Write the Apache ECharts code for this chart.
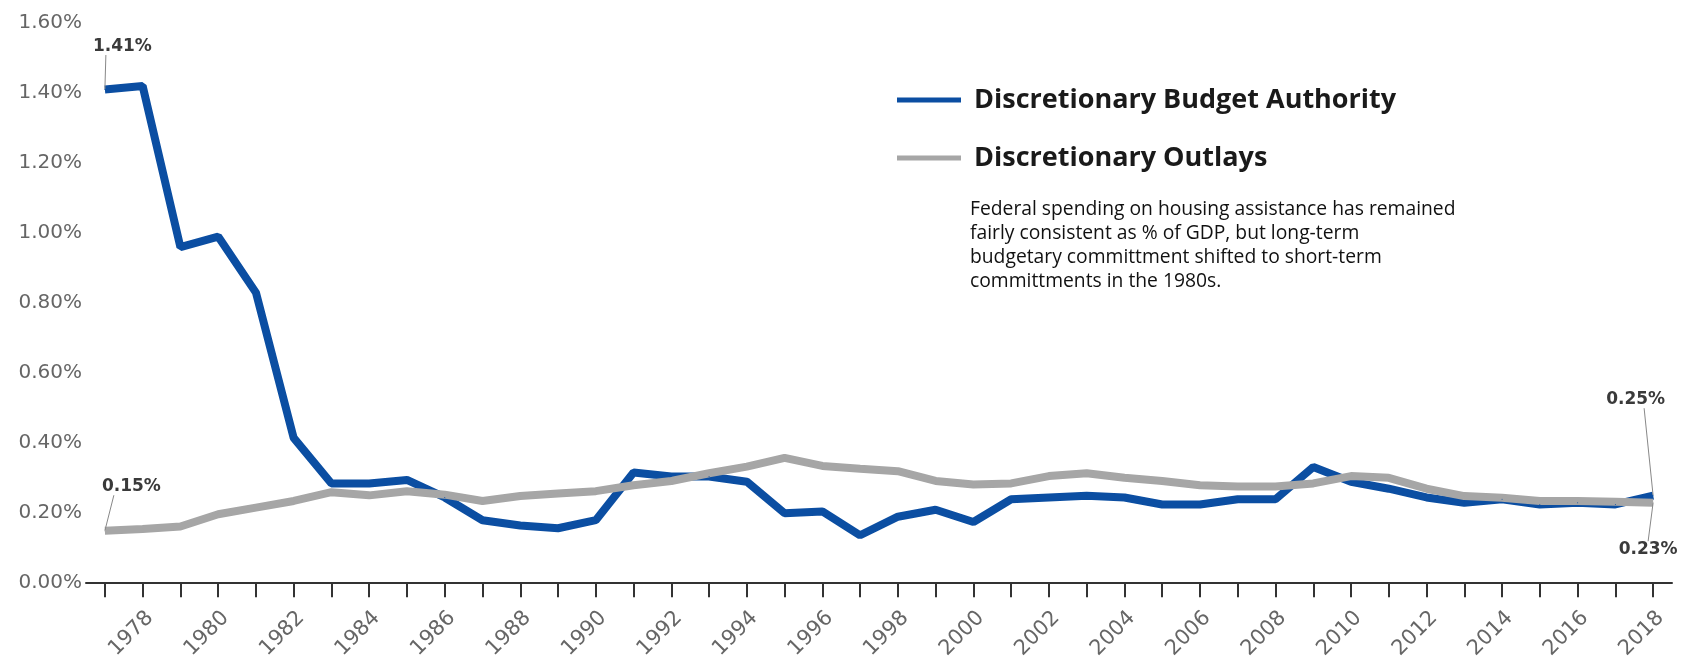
<!DOCTYPE html>
<html>
<head>
<meta charset="utf-8">
<script src="https://cdn.jsdelivr.net/npm/echarts@6/dist/echarts.min.js"></script>
<style>
  html, body { margin: 0; padding: 0; background: #fff; }
  #chart { width: 1686px; height: 662px; }
</style>
</head>
<body>
<div id="chart"></div>
<script>
// fiscal years on the x axis
const years = [
  "1977", "1978", "1979", "1980", "1981", "1982", "1983", "1984", "1985", "1986",
  "1987", "1988", "1989", "1990", "1991", "1992", "1993", "1994", "1995", "1996",
  "1997", "1998", "1999", "2000", "2001", "2002", "2003", "2004", "2005", "2006",
  "2007", "2008", "2009", "2010", "2011", "2012", "2013", "2014", "2015", "2016",
  "2017", "2018"
];

// % of GDP
const budgetAuthority = [
  1.41, 1.42, 0.96, 0.99, 0.83, 0.415, 0.285, 0.285, 0.295, 0.245,
  0.18, 0.165, 0.157, 0.18, 0.316, 0.305, 0.305, 0.29, 0.2, 0.205,
  0.137, 0.19, 0.21, 0.175, 0.24, 0.245, 0.25, 0.245, 0.225, 0.225,
  0.24, 0.24, 0.332, 0.29, 0.27, 0.245, 0.23, 0.24, 0.225, 0.23,
  0.225, 0.25
];

const outlays = [
  0.15, 0.155, 0.162, 0.197, 0.216, 0.235, 0.26, 0.251, 0.263, 0.253,
  0.235, 0.249, 0.256, 0.263, 0.28, 0.292, 0.314, 0.333, 0.358, 0.335,
  0.327, 0.32, 0.292, 0.282, 0.285, 0.306, 0.314, 0.301, 0.292, 0.28,
  0.276, 0.276, 0.285, 0.306, 0.301, 0.27, 0.249, 0.244, 0.235, 0.235,
  0.233, 0.23
];

const yTicks = [0, 0.2, 0.4, 0.6, 0.8, 1.0, 1.2, 1.4, 1.6];

const seriesNames = ["Discretionary Budget Authority", "Discretionary Outlays"];
const note = [
  "Federal spending on housing assistance has remained",
  "fairly consistent as % of GDP, but long-term",
  "budgetary committment shifted to short-term",
  "committments in the 1980s."
];

const BLUE = "#0b4ea2";
const GRAY = "#a6a6a6";

// label the first and last point of each line;
// the padding (with an invisible box) only moves where the guide line meets the label
function withEndLabels(values, firstPad, lastPad) {
  return values.map((v, i) => {
    if (i === 0) return { value: v, label: { show: true, padding: firstPad } };
    if (i === values.length - 1) return { value: v, label: { show: true, padding: lastPad } };
    return v;
  });
}

const calloutLabel = {
  show: false,
  position: "inside",
  formatter: (p) => p.value.toFixed(2) + "%",
  fontFamily: "DejaVu Sans",
  fontWeight: "bold",
  fontSize: 17,
  color: "#3a3a3a",
  backgroundColor: "rgba(255,255,255,0)"
};

const calloutLine = {
  show: true,
  lineStyle: { color: "#888", width: 1 }
};

const chart = echarts.init(document.getElementById("chart"));

chart.setOption({
  animation: false,
  backgroundColor: "#fff",
  grid: { left: 86, right: 14, top: 23, bottom: 78, containLabel: false },
  legend: {
    orient: "vertical",
    left: 892,
    top: 80,
    icon: "rect",
    itemWidth: 64,
    itemHeight: 5,
    itemGap: 28,
    data: seriesNames,
    textStyle: {
      fontFamily: "Open Sans",
      fontWeight: "bold",
      fontSize: 27,
      lineHeight: 30,
      color: "#1a1a1a",
      padding: [0, 0, 0, 8]
    }
  },
  graphic: [{
    type: "text",
    left: 970,
    top: 198,
    style: {
      text: note.join("\n"),
      font: "19.3px 'Open Sans'",
      lineHeight: 24,
      fill: "#111"
    }
  }],
  xAxis: {
    type: "category",
    data: years,
    boundaryGap: true,
    axisLine: { lineStyle: { color: "#333", width: 2 } },
    axisTick: {
      show: true,
      interval: 0,
      alignWithLabel: true,
      length: 14,
      lineStyle: { color: "#333", width: 2 }
    },
    axisLabel: {
      interval: (idx) => idx % 2 === 1,
      rotate: 45,
      margin: 24,
      verticalAlign: "top",
      fontFamily: "DejaVu Sans",
      fontSize: 21,
      color: "#666"
    }
  },
  yAxis: {
    type: "value",
    min: yTicks[0],
    max: yTicks[yTicks.length - 1],
    interval: 0.2,
    axisLine: { show: false },
    axisTick: { show: false },
    splitLine: { show: false },
    axisLabel: {
      margin: 4,
      fontFamily: "DejaVu Sans",
      fontSize: 20,
      color: "#666",
      formatter: (v) => v.toFixed(2) + "%"
    }
  },
  series: [
    {
      name: seriesNames[0],
      type: "line",
      data: withEndLabels(budgetAuthority, [0, 0, 0, 33], [0, 17, 0, 0]),
      showSymbol: true,
      showAllSymbol: true,
      symbol: "circle",
      symbolSize: 1,
      itemStyle: { color: BLUE },
      lineStyle: { color: BLUE, width: 8 },
      label: calloutLabel,
      labelLine: calloutLine,
      labelLayout: (p) => p.dataIndex === 0 ? { dx: 1, dy: -43 } : { dx: -9, dy: -96 }
    },
    {
      name: seriesNames[1],
      type: "line",
      data: withEndLabels(outlays, [0, 0, 0, 35], 0),
      showSymbol: true,
      showAllSymbol: true,
      symbol: "circle",
      symbolSize: 1,
      itemStyle: { color: GRAY },
      lineStyle: { color: GRAY, width: 8 },
      label: calloutLabel,
      labelLine: calloutLine,
      labelLayout: (p) => p.dataIndex === 0 ? { dx: 9, dy: -44 } : { dx: -5, dy: 47 }
    }
  ]
});
</script>
</body>
</html>
